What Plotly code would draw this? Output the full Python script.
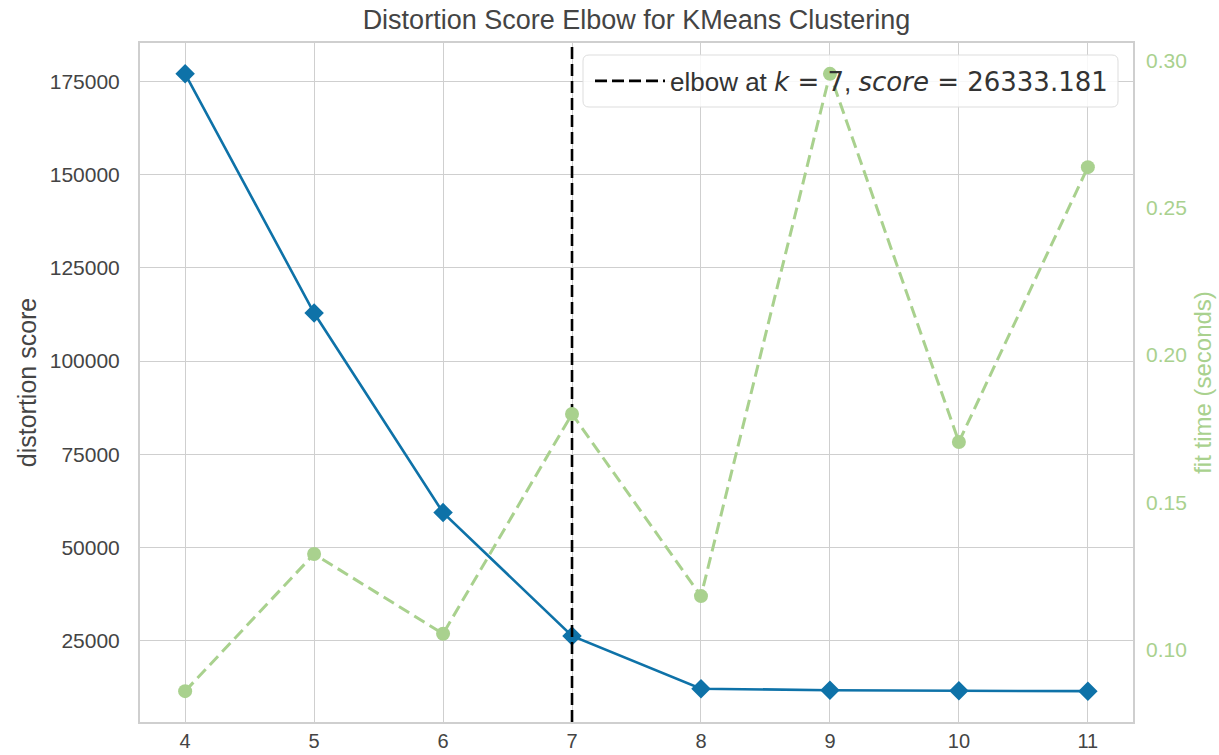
import plotly.graph_objects as go

# Elbow search results for KMeans over k = 4..11
k_values = [4, 5, 6, 7, 8, 9, 10, 11]
distortion = [177000, 112900, 59400, 26333.181, 12200, 11800, 11650, 11550]
fit_seconds = [0.0858, 0.1324, 0.1053, 0.1800, 0.1181, 0.2956, 0.1705, 0.2639]
elbow_k = 7
elbow_score = 26333.181

left_ticks = [25000, 50000, 75000, 100000, 125000, 150000, 175000]
right_ticks = [0.10, 0.15, 0.20, 0.25, 0.30]

BLUE = "#0e72a8"
GREEN = "#a9d18e"
TEXT = "#444444"
GRID = "#cfcfcf"
FONT = "Liberation Sans, Arial, sans-serif"
MATH = "font-family:'DejaVu Sans'"


def padded(vals, frac=0.05):
    lo, hi = min(vals), max(vals)
    pad = (hi - lo) * frac
    return [lo - pad, hi + pad]


x_range = padded(k_values)
y_range = padded(distortion)
y2_range = padded(fit_seconds)

fig = go.Figure()

# distortion curve
fig.add_trace(go.Scatter(
    x=k_values, y=distortion, mode="lines+markers",
    line=dict(color=BLUE, width=2.6),
    marker=dict(symbol="diamond", size=15, color=BLUE),
    showlegend=False, yaxis="y",
))

# elbow marker line
elbow_label = (f"elbow at <span style=\"{MATH}\"><i>k</i> = {elbow_k}</span>, "
               f"<span style=\"{MATH}\"><i>score</i> = {elbow_score:.3f}</span>")
fig.add_trace(go.Scatter(
    x=[elbow_k, elbow_k], y=y_range, mode="lines",
    line=dict(color="black", width=2.6, dash="12px,5px"),
    name=elbow_label, showlegend=True, yaxis="y",
))

# fit time curve on the secondary axis
fig.add_trace(go.Scatter(
    x=k_values, y=fit_seconds, mode="lines+markers",
    line=dict(color=GREEN, width=3, dash="12px,6px"),
    marker=dict(symbol="circle", size=14, color=GREEN),
    showlegend=False, yaxis="y2",
))

# rounded legend frame, placed in pixel terms inside the plot area
W, H = 1219 - 140 - 86, 755 - 43 - 33
fx0, fx1 = (583 - 140) / W, (1118 - 140) / W
fy0, fy1 = (722 - 107) / H, (722 - 55) / H


def to_x(f):
    return x_range[0] + f * (x_range[1] - x_range[0])


def to_y(f):
    return y_range[0] + f * (y_range[1] - y_range[0])


rfx, rfy = 6 / W, 6 / H
X0, X1, Xa, Xb = to_x(fx0), to_x(fx1), to_x(fx0 + rfx), to_x(fx1 - rfx)
Y0, Y1, Ya, Yb = to_y(fy0), to_y(fy1), to_y(fy0 + rfy), to_y(fy1 - rfy)
path = (f"M {Xa},{Y0} L {Xb},{Y0} Q {X1},{Y0} {X1},{Ya} "
        f"L {X1},{Yb} Q {X1},{Y1} {Xb},{Y1} L {Xa},{Y1} "
        f"Q {X0},{Y1} {X0},{Yb} L {X0},{Ya} Q {X0},{Y0} {Xa},{Y0} Z")
fig.add_shape(type="path", path=path, xref="x", yref="y",
              fillcolor="rgba(255,255,255,0.85)",
              line=dict(color="#dddddd", width=1), layer="between")

fig.update_layout(
    width=1219, height=755,
    margin=dict(l=140, r=86, t=43, b=33),
    paper_bgcolor="white", plot_bgcolor="white",
    font=dict(family=FONT, color=TEXT, size=21),
    title=dict(text="Distortion Score Elbow for KMeans Clustering",
               x=0.5, xref="paper", y=1 - 20 / 755, yref="container",
               yanchor="middle", xanchor="center",
               font=dict(size=27, color=TEXT)),
    xaxis=dict(range=x_range, tickvals=k_values, ticks="",
               showgrid=True, gridcolor=GRID, gridwidth=1.2,
               showline=True, linecolor=GRID, linewidth=2, mirror=True,
               zeroline=False, tickfont=dict(size=20, color=TEXT),
               ticklabelstandoff=0, automargin=False),
    yaxis=dict(range=y_range, tickvals=left_ticks, tickformat="d", ticks="",
               showgrid=True, gridcolor=GRID, gridwidth=1.2,
               showline=True, linecolor=GRID, linewidth=2, mirror=True,
               zeroline=False, tickfont=dict(size=21, color=TEXT),
               ticklabelstandoff=14, automargin=False,
               title=dict(text="distortion score", font=dict(size=25, color=TEXT),
                          standoff=6)),
    yaxis2=dict(range=y2_range, tickvals=right_ticks, tickformat=".2f", ticks="",
                overlaying="y", side="right", showgrid=False, zeroline=False,
                showline=False, tickfont=dict(size=21, color=GREEN),
                ticklabelstandoff=12, automargin=False,
                title=dict(text="fit time (seconds)", font=dict(size=24, color=GREEN),
                           standoff=8)),
    legend=dict(x=fx0 + 7 / W, y=(fy0 + fy1) / 2, xanchor="left", yanchor="middle",
                bgcolor="rgba(0,0,0,0)", borderwidth=0, itemwidth=70,
                font=dict(size=26, color="#333333")),
)

fig.write_html("out.html")
